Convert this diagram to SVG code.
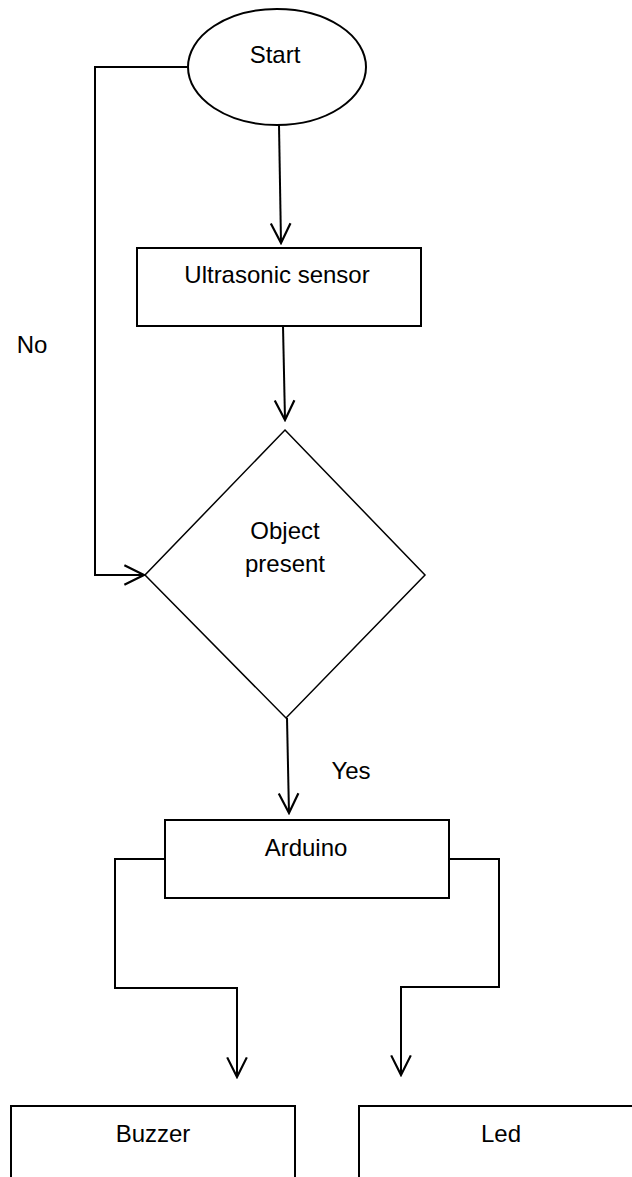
<svg xmlns="http://www.w3.org/2000/svg" width="632" height="1177" viewBox="0 0 632 1177">
<style>
.shape{fill:#fff;stroke:#000;stroke-width:2}
.thin{fill:#fff;stroke:#000;stroke-width:1.5}
.conn{fill:none;stroke:#000;stroke-width:2}
text{font-family:"Liberation Sans",Arial,sans-serif;font-size:24px;fill:#000}
.c{text-anchor:middle}
</style>
<defs>
<marker id="arr" markerUnits="userSpaceOnUse" markerWidth="24" markerHeight="24" viewBox="-20 -11 22 22" refX="0" refY="0" orient="auto">
<path d="M-18,-9 L0,0 L-18,9" fill="none" stroke="#000" stroke-width="2"/>
</marker>
</defs>
<rect width="632" height="1177" fill="#fff"/>
<g id="connectors">
<path class="conn" d="M279,125 L281,243" marker-end="url(#arr)"/>
<path class="conn" d="M283,326 L285,420" marker-end="url(#arr)"/>
<path class="conn" d="M187,67 L95,67 L95,575 L144,575" marker-end="url(#arr)"/>
<path class="conn" d="M287,718 L289,813" marker-end="url(#arr)"/>
<path class="conn" d="M165,859 L115,859 L115,988 L237,988 L237,1077" marker-end="url(#arr)"/>
<path class="conn" d="M449,859 L499,859 L499,987 L401,987 L401,1075" marker-end="url(#arr)"/>
<text x="32" y="353" class="c">No</text>
<text x="351" y="779" class="c">Yes</text>
</g>
<g id="start">
<ellipse class="shape" cx="277" cy="67" rx="89" ry="58"/>
<text x="275" y="63" class="c">Start</text>
</g>
<g id="ultrasonic">
<rect class="shape" x="137" y="248" width="284" height="78"/>
<text x="277" y="283" class="c">Ultrasonic sensor</text>
</g>
<g id="decision">
<polygon class="thin" points="285,430 425,575 286,718 145,575"/>
<text x="285" y="539" class="c">Object</text>
<text x="285" y="572" class="c">present</text>
</g>
<g id="arduino">
<rect class="shape" x="165" y="820" width="284" height="78"/>
<text x="306" y="856" class="c">Arduino</text>
</g>
<g id="buzzer">
<rect class="shape" x="11" y="1106" width="284" height="90"/>
<text x="153" y="1142" class="c">Buzzer</text>
</g>
<g id="led">
<rect class="shape" x="359" y="1106" width="300" height="90"/>
<text x="501" y="1142" class="c">Led</text>
</g>
</svg>
